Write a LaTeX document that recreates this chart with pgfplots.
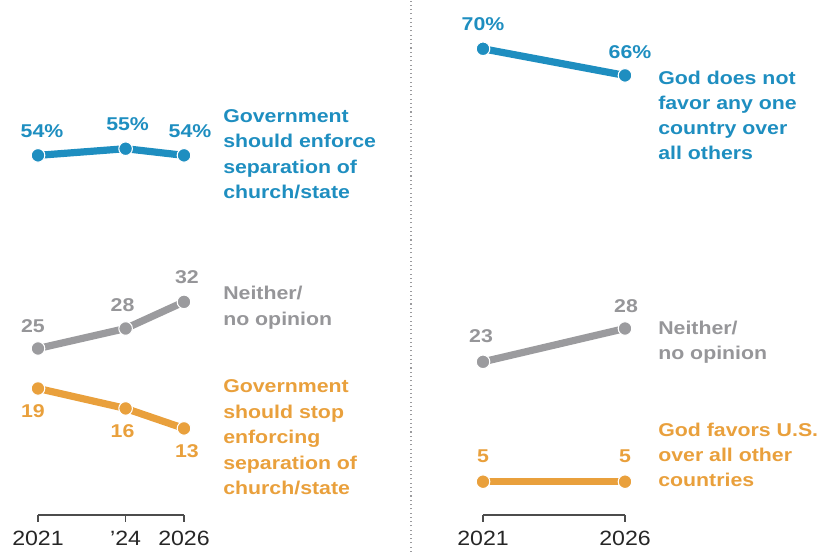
\documentclass[border=0pt]{standalone}
\usepackage{pgfplots}
\pgfplotsset{compat=1.18}
\usepackage{fontspec}
\setmainfont[FakeStretch=1.15]{Liberation Sans}
\newfontfamily\tickfont[FakeStretch=1.12]{Liberation Sans}
\definecolor{pblue}{RGB}{30,142,192}
\definecolor{porange}{RGB}{233,160,60}
\definecolor{pgray}{RGB}{155,155,158}
\definecolor{ptext}{RGB}{150,150,153}
\newcommand\lf{\fontsize{13.9}{19}\selectfont\bfseries}
\pgfplotsset{
  pew/.style={
    scale only axis, height=374.625pt, ymin=0, ymax=75, xmin=2021, xmax=2026,
    clip=false, axis x line=bottom, axis y line=none,
    axis line style={-, draw=black!70, line width=1pt},
    tick align=outside, major tick length=5.25pt,
    tick style={draw=black!70, line width=1pt},
    xticklabel style={font=\tickfont\fontsize{15.5}{18}\selectfont, text=black!85, inner sep=0pt, anchor=north, yshift=-6.75pt},
  },
  ser/.style={line width=5.4pt, color=#1, mark=*, mark size=5.1pt,
    mark options={fill=#1, draw=white, line width=0.8pt}},
}
\tikzset{vl/.style={font=\lf, inner sep=0pt, anchor=base}}
\begin{document}
\begin{tikzpicture}
\begin{scope}[x=0.75pt,y=0.75pt]
\useasboundingbox (0,0) rectangle (823,552);
\draw[pgray, line width=0.9pt, dash pattern=on 0.8pt off 2.4pt] (411,0) -- (411,552);
\end{scope}
% Left panel
\begin{axis}[pew, at={(28.5pt,27.75pt)}, anchor=south west, width=109.5pt,
  xtick={2021,2024,2026}, xticklabels={2021,’24,2026}]
\addplot[ser=pblue] coordinates {(2021,54) (2024,55) (2026,54)};
\addplot[ser=pgray] coordinates {(2021,25) (2024,28) (2026,32)};
\addplot[ser=porange] coordinates {(2021,19) (2024,16) (2026,13)};
\node[vl, text=pblue, xshift=3pt, yshift=13.5pt] at (axis cs:2021,54) {54\%};
\node[vl, text=pblue, xshift=1.5pt, yshift=13.5pt] at (axis cs:2024,55) {55\%};
\node[vl, text=pblue, xshift=4.5pt, yshift=13.5pt] at (axis cs:2026,54) {54\%};
\node[vl, text=ptext, xshift=-3.75pt, yshift=12pt] at (axis cs:2021,25) {25};
\node[vl, text=ptext, xshift=-2.25pt, yshift=12.75pt] at (axis cs:2024,28) {28};
\node[vl, text=ptext, xshift=2.25pt, yshift=13.5pt] at (axis cs:2026,32) {32};
\node[vl, text=porange, xshift=-3.75pt, yshift=-21.75pt] at (axis cs:2021,19) {19};
\node[vl, text=porange, xshift=-2.25pt, yshift=-21.75pt] at (axis cs:2024,16) {16};
\node[vl, text=porange, xshift=2.25pt, yshift=-21.75pt] at (axis cs:2026,13) {13};
\end{axis}
% Right panel
\begin{axis}[pew, at={(362.25pt,27.75pt)}, anchor=south west, width=106.5pt,
  xtick={2021,2026}, xticklabels={2021,2026}]
\addplot[ser=pblue] coordinates {(2021,70) (2026,66)};
\addplot[ser=pgray] coordinates {(2021,23) (2026,28)};
\addplot[ser=porange] coordinates {(2021,5) (2026,5)};
\node[vl, text=pblue, yshift=13.5pt] at (axis cs:2021,70) {70\%};
\node[vl, text=pblue, xshift=3.75pt, yshift=12.75pt] at (axis cs:2026,66) {66\%};
\node[vl, text=ptext, xshift=-1.5pt, yshift=14.25pt] at (axis cs:2021,23) {23};
\node[vl, text=ptext, xshift=0.75pt, yshift=12pt] at (axis cs:2026,28) {28};
\node[vl, text=porange, yshift=14.25pt] at (axis cs:2021,5) {5};
\node[vl, text=porange, yshift=14.25pt] at (axis cs:2026,5) {5};
\end{axis}
% End labels
\begin{scope}[x=0.75pt,y=0.75pt,every node/.style={anchor=base west, inner sep=0pt, font=\lf}]
\node[text=pblue] at (223,429) {Government};
\node[text=pblue] at (223,404) {should enforce};
\node[text=pblue] at (223,378) {separation of};
\node[text=pblue] at (223,353) {church/state};
\node[text=ptext] at (223,252) {Neither/};
\node[text=ptext] at (223,226) {no opinion};
\node[text=porange] at (223,159) {Government};
\node[text=porange] at (223,133.5) {should stop};
\node[text=porange] at (223,108) {enforcing};
\node[text=porange] at (223,82.5) {separation of};
\node[text=porange] at (223,57) {church/state};
\node[text=pblue] at (658,467) {God does not};
\node[text=pblue] at (658,442) {favor any one};
\node[text=pblue] at (658,417) {country over};
\node[text=pblue] at (658,392) {all others};
\node[text=ptext] at (658,217) {Neither/};
\node[text=ptext] at (658,192) {no opinion};
\node[text=porange] at (658,115) {God favors U.S.};
\node[text=porange] at (658,90) {over all other};
\node[text=porange] at (658,65) {countries};
\end{scope}
\end{tikzpicture}
\end{document}
